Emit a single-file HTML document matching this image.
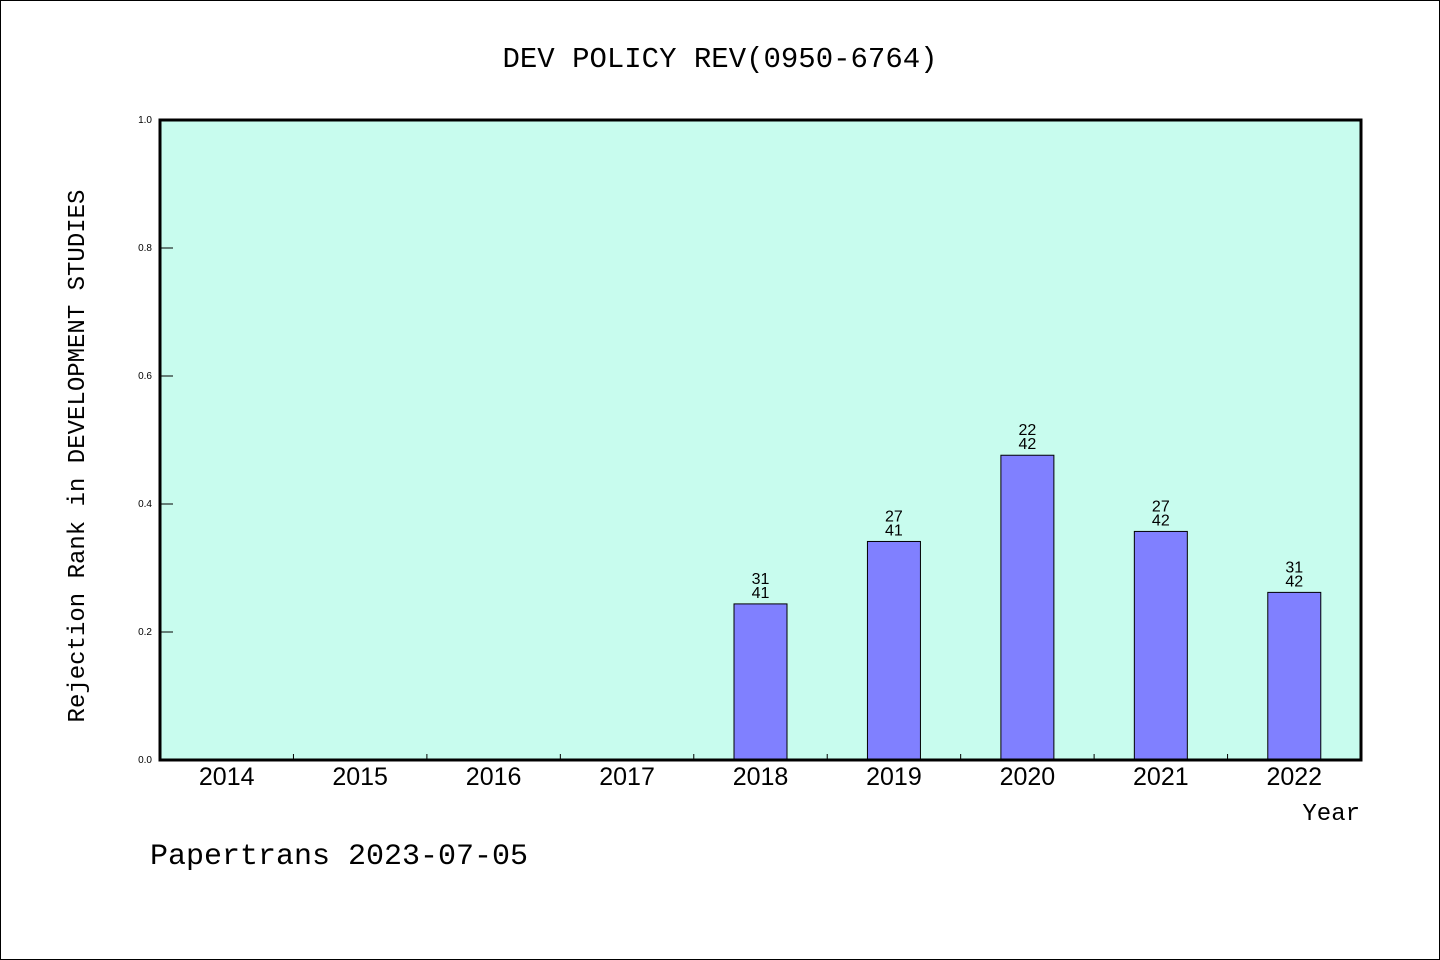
<!DOCTYPE html>
<html><head><meta charset="utf-8"><style>
body{margin:0;background:#fff}
svg{display:block}
text{font-family:"Liberation Sans","WenQuanYi Zen Hei",sans-serif;fill:#000}
.mono{font-family:"WenQuanYi Zen Hei Mono","Liberation Mono",monospace}
</style></head><body>
<svg id="chart" width="1440" height="960" xmlns="http://www.w3.org/2000/svg">
<rect x="0.5" y="0.5" width="1439" height="959" fill="#fff" stroke="#000"/>
<text class="mono" x="720" y="67" font-size="29" text-anchor="middle">DEV POLICY REV(0950-6764)</text>
<rect x="160" y="120" width="1201" height="640" fill="#c8fcee"/>
<g id="ticks"></g>
<g id="bars"></g>
<rect x="160" y="120" width="1201" height="640" fill="none" stroke="#000" stroke-width="3"/>
<text class="mono" font-size="24" text-anchor="middle" transform="translate(84,456) rotate(-90)">Rejection Rank in DEVELOPMENT STUDIES</text>
<text class="mono" x="1360" y="820" font-size="24" text-anchor="end">Year</text>
<text class="mono" x="150" y="864" font-size="30">Papertrans 2023-07-05</text>
</svg>
<script>
const years=["2014","2015","2016","2017","2018","2019","2020","2021","2022"];
const ranks=[null,null,null,null,31,27,22,27,31];
const totals=[null,null,null,null,41,41,42,42,42];
const yTicks=[0,0.2,0.4,0.6,0.8,1.0];
const NS="http://www.w3.org/2000/svg";
const X0=160,X1=1361,Y0=760,Y1=120;
const bw=(X1-X0)/years.length;
const xc=i=>X0+bw*(i+0.5);
const ys=v=>Y0-(Y0-Y1)*v;
function mk(t,a,p){const e=document.createElementNS(NS,t);for(const k in a)e.setAttribute(k,a[k]);p.appendChild(e);return e;}
const tg=document.getElementById('ticks'),bg=document.getElementById('bars');
yTicks.forEach(v=>{
  const l=mk('line',{x1:X0,x2:X0+13,y1:ys(v),y2:ys(v),stroke:'#000','stroke-width':1},tg);
  
  
  const t=mk('text',{x:X0-8,y:ys(v)+3,'font-size':10,'text-anchor':'end'},tg);
  t.textContent=v.toFixed(1);
  
  
});
years.forEach((y,i)=>{
  if(i>0){
    const l=mk('line',{x1:X0+bw*i,x2:X0+bw*i,y1:Y0,y2:Y0-6,stroke:'#000','stroke-width':1},tg);
    
    
  }
  const t=mk('text',{x:xc(i),y:785,'font-size':25,'text-anchor':'middle'},tg);
  t.textContent=y;
  
  
  if(ranks[i]!=null){
    const v=1-ranks[i]/totals[i];
    const r=mk('rect',{x:xc(i)-26.5,y:ys(v),width:53,height:Y0-ys(v),fill:'#8080ff',stroke:'#000','stroke-width':1},bg);
    
    
    const a=mk('text',{x:xc(i),y:ys(v)-20,'font-size':16,'text-anchor':'middle'},bg);
    a.textContent=ranks[i];
    
    
    const b=mk('text',{x:xc(i),y:ys(v)-6,'font-size':16,'text-anchor':'middle'},bg);
    b.textContent=totals[i];
    
    
  }
});
</script>
</body></html>
